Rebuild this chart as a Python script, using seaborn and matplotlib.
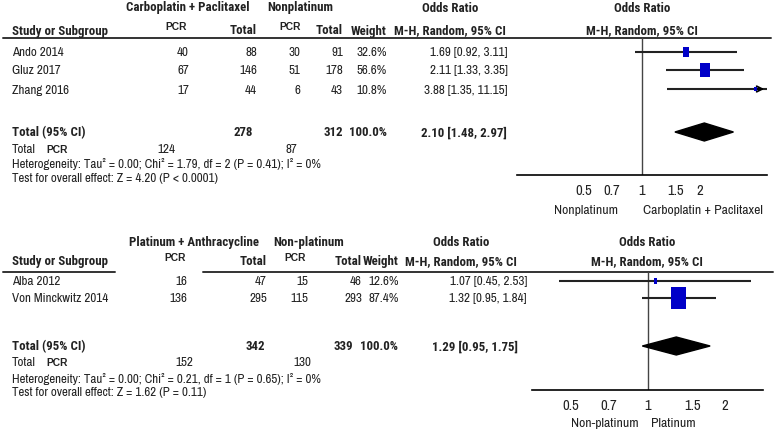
import numpy as np
import pandas as pd
import matplotlib
matplotlib.use('Agg')
import matplotlib.pyplot as plt
import seaborn as sns

# ---- data: panel 1 (Carboplatin + Paclitaxel vs Nonplatinum)
top_studies = ['Ando 2014', 'Gluz 2017', 'Zhang 2016']
top_pcr_exp = [40, 67, 17]
top_tot_exp = [88, 146, 44]
top_pcr_ctl = [30, 51, 6]
top_tot_ctl = [91, 178, 43]
top_weight = [32.6, 56.6, 10.8]
top_or = [1.69, 2.11, 3.88]
top_lo = [0.92, 1.33, 1.35]
top_hi = [3.11, 3.35, 11.15]
top_sum = [2.10, 1.48, 2.97]
top_totals = [278, 312]
top_events = [124, 87]
top_groups = ['Carboplatin + Paclitaxel', 'Nonplatinum']
top_het = 'Heterogeneity: Tau² = 0.00; Chi² = 1.79, df = 2 (P = 0.41); I² = 0%'
top_test = 'Test for overall effect: Z = 4.20 (P < 0.0001)'
top_favours = ['Nonplatinum', 'Carboplatin + Paclitaxel']

# ---- data: panel 2 (Platinum + Anthracycline vs Non-platinum)
bot_studies = ['Alba 2012', 'Von Minckwitz 2014']
bot_pcr_exp = [16, 136]
bot_tot_exp = [47, 295]
bot_pcr_ctl = [15, 115]
bot_tot_ctl = [46, 293]
bot_weight = [12.6, 87.4]
bot_or = [1.07, 1.32]
bot_lo = [0.45, 0.95]
bot_hi = [2.53, 1.84]
bot_sum = [1.29, 0.95, 1.75]
bot_totals = [342, 339]
bot_events = [152, 130]
bot_groups = ['Platinum + Anthracycline', 'Non-platinum']
bot_het = 'Heterogeneity: Tau² = 0.00; Chi² = 0.21, df = 1 (P = 0.65); I² = 0%'
bot_test = 'Test for overall effect: Z = 1.62 (P = 0.11)'
bot_favours = ['Non-platinum', 'Platinum']

ticks = [0.5, 0.7, 1, 1.5, 2]

sns.set_style('white')
plt.rcParams['font.family'] = ['Archivo Narrow', 'Roboto Condensed', 'DejaVu Sans']

W, H = 778, 435
fig = plt.figure(figsize=(W / 100, H / 100), dpi=100)
base = fig.add_axes([0, 0, 1, 1])
base.set_xlim(0, W)
base.set_ylim(H, 0)
base.axis('off')

TXT = '#222222'
FS = 9.4
BOLD = dict(family=['Roboto Condensed', 'DejaVu Sans'], fontweight='bold', fontsize=9.3)
PCR_FONT = dict(family=['Liberation Sans', 'DejaVu Sans'], fontsize=7.4, fontweight='bold')


def t(x, y, s, ha='left', **kw):
    kw.setdefault('fontsize', FS)
    kw.setdefault('color', TXT)
    base.text(x, y, s, ha=ha, va='center', **kw)


def tb(x, y, s, ha='left'):
    base.text(x, y, s, ha=ha, va='center', color=TXT, **BOLD)


def forest_axes(x0, x1, y0, y1, lim):
    ax = fig.add_axes([x0 / W, (H - y1) / H, (x1 - x0) / W, (y1 - y0) / H])
    ax.set_xscale('log')
    ax.set_xlim(*lim)
    ax.set_ylim(y1, y0)
    ax.patch.set_alpha(0)
    for s in ['top', 'left', 'right']:
        ax.spines[s].set_visible(False)
    ax.spines['bottom'].set_color('black')
    ax.spines['bottom'].set_linewidth(1.2)
    ax.set_yticks([])
    ax.set_xticks(ticks)
    ax.set_xticklabels([f'{v:g}' for v in ticks])
    ax.minorticks_off()
    ax.tick_params(axis='x', direction='inout', length=6, width=1, pad=2.5,
                   labelsize=10.5, labelcolor=TXT, color='black')
    ax.axvline(1, color='#444444', lw=1)
    return ax


def draw_panel(L, studies, pe, te, pc, tc, wt, orv, lo, hi, summ, totals, events,
               groups, het, test, favours):
    # headers
    tb(L['grp'][0], L['hy1'], groups[0], ha='center')
    tb(L['grp'][1], L['hy1'], groups[1], ha='center')
    tb(L['orc'][0], L['hy1'], 'Odds Ratio', ha='center')
    tb(L['orc'][1], L['hy1'], 'Odds Ratio', ha='center')
    tb(12, L['hy2'], 'Study or Subgroup')
    base.text(L['pcrh'][0], L['hy2'] - 4, 'PCR', ha='center', va='center', color=TXT, **PCR_FONT)
    base.text(L['pcrh'][1], L['hy2'] - 4, 'PCR', ha='center', va='center', color=TXT, **PCR_FONT)
    tb(L['col'][1], L['hy2'], 'Total', ha='right')
    tb(L['col'][3], L['hy2'], 'Total', ha='right')
    tb(L['col'][4], L['hy2'], 'Weight', ha='right')
    tb(L['orc'][0], L['hy2'], 'M-H, Random, 95% CI', ha='center')
    tb(L['orc'][1], L['hy2'], 'M-H, Random, 95% CI', ha='center')
    for seg in L['rule']:
        base.plot(seg, [L['ruley']] * 2, color='#333333', lw=1.4)

    # study rows
    for i, s in enumerate(studies):
        y = L['rows'][i]
        t(12, y, s)
        for c, v in zip(L['col'][:4], [pe[i], te[i], pc[i], tc[i]]):
            t(c, y, str(v), ha='right')
        t(L['col'][4], y, f'{wt[i]:.1f}%', ha='right')
        t(L['col'][5], y, f'{orv[i]:.2f} [{lo[i]:.2f}, {hi[i]:.2f}]', ha='right')

    # totals
    yt = L['ytot']
    tb(12, yt, 'Total (95% CI)')
    tb(L['tcol'][0], yt, str(totals[0]), ha='right')
    tb(L['tcol'][1], yt, str(totals[1]), ha='right')
    tb(L['tcol'][2], yt, '100.0%', ha='right')
    tb(L['tcol'][3], yt, f'{summ[0]:.2f} [{summ[1]:.2f}, {summ[2]:.2f}]', ha='right')
    ye = L['yev']
    t(12, ye, 'Total')
    base.text(46, ye, 'PCR', ha='left', va='center', color=TXT, **PCR_FONT)
    t(L['ecol'][0], ye, str(events[0]), ha='center')
    t(L['ecol'][1], ye, str(events[1]), ha='center')
    t(12, L['yhet'], het, fontsize=9.3)
    t(12, L['ytest'], test, fontsize=9.3)

    # forest
    ax = forest_axes(*L['fx'], *L['fy'], L['lim'])
    ys = L['rows']
    ax.hlines(ys, lo, hi, color='#222222', lw=1.5, zorder=2)
    xmax = L['lim'][1]
    for i in range(len(studies)):
        if hi[i] > xmax:
            ax.annotate('', xy=(xmax, ys[i]), xytext=(xmax * 0.85, ys[i]),
                        arrowprops=dict(arrowstyle='->', color='black', lw=1.3,
                                        mutation_scale=10), annotation_clip=False)
    df = pd.DataFrame({'or': orv, 'y': ys, 'w': wt})
    side = 1.5 + 0.155 * df['w']
    sizes = (side * 1.45 * 0.72) ** 2
    rect = [(-1, -1.45), (1, -1.45), (1, 1.45), (-1, 1.45), (-1, -1.45)]
    sns.scatterplot(data=df, x='or', y='y', marker=rect, s=sizes, color='#0000C8',
                    edgecolor='none', ax=ax, zorder=3, legend=False)
    ax.set_xlabel('')
    ax.set_ylabel('')
    dy = 9
    ax.fill([summ[1], summ[0], summ[2], summ[0]], [yt, yt - dy, yt, yt + dy],
            color='black', zorder=3)
    t(L['fav'][0], L['yfav'], favours[0], ha='center', fontsize=9.8)
    t(L['fav'][1], L['yfav'], favours[1], ha='center', fontsize=9.8)


top_layout = dict(
    hy1=8, hy2=31, grp=[188, 300], orc=[450, 642], pcrh=[176, 290],
    col=[189, 257, 300, 343, 387, 508], rule=[[3, 771]], ruley=38.5,
    rows=[53, 71, 90], ytot=133, tcol=[253, 343, 387, 507], yev=150,
    ecol=[166, 291], yhet=164, ytest=179,
    fx=(517, 767), fy=(38.5, 176), lim=(np.exp(-125 / 84), np.exp(125 / 84)),
    fav=[586, 703], yfav=211,
)
bot_layout = dict(
    hy1=243, hy2=262, grp=[194, 309], orc=[461, 647], pcrh=[175, 295],
    col=[187, 267, 308, 362, 399, 527], rule=[[3, 115], [203, 773]], ruley=272.5,
    rows=[282, 299], ytot=347, tcol=[265, 353, 398, 518], yev=363,
    ecol=[184, 302], yhet=379, ytest=393,
    fx=(532, 763), fy=(272.5, 391), lim=(np.exp(-116 / 111), np.exp(115 / 111)),
    fav=[605, 673], yfav=424,
)

draw_panel(top_layout, top_studies, top_pcr_exp, top_tot_exp, top_pcr_ctl, top_tot_ctl,
           top_weight, top_or, top_lo, top_hi, top_sum, top_totals, top_events,
           top_groups, top_het, top_test, top_favours)
draw_panel(bot_layout, bot_studies, bot_pcr_exp, bot_tot_exp, bot_pcr_ctl, bot_tot_ctl,
           bot_weight, bot_or, bot_lo, bot_hi, bot_sum, bot_totals, bot_events,
           bot_groups, bot_het, bot_test, bot_favours)

fig.savefig('out.png', dpi=100)
